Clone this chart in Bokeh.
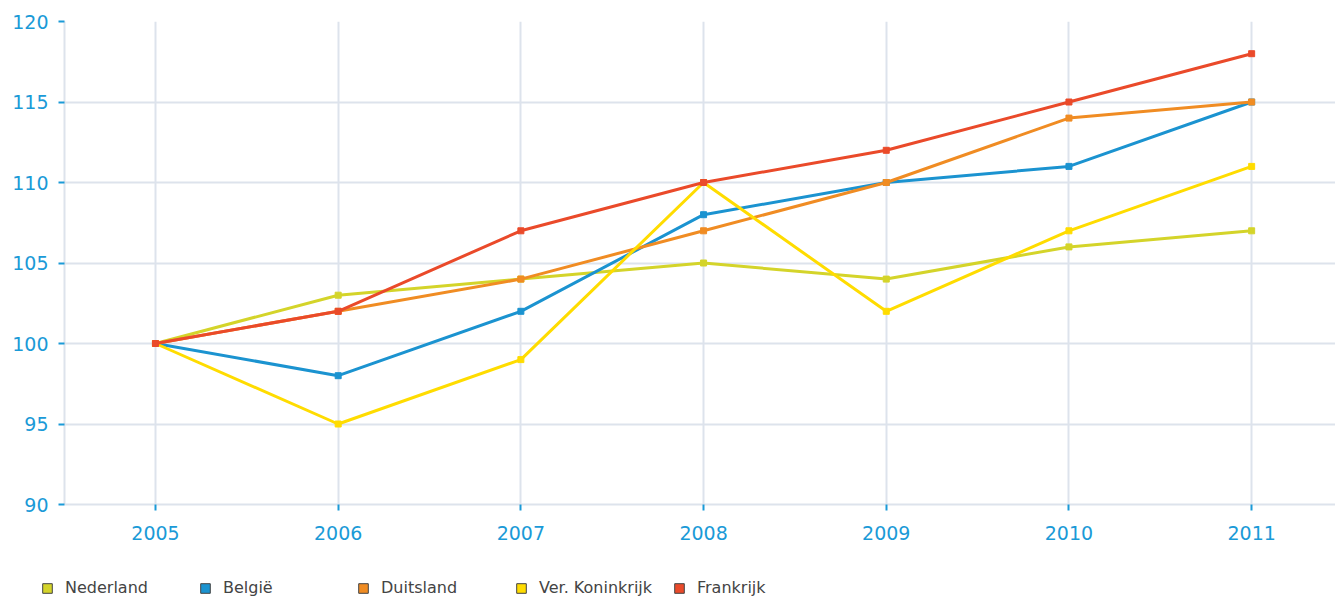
from bokeh.plotting import figure
from bokeh.layouts import column
from bokeh.models import Legend, LegendItem, ColumnDataSource, FixedTicker, Range1d
from bokeh.embed import file_html
from bokeh.resources import INLINE

years = [2005, 2006, 2007, 2008, 2009, 2010, 2011]
series_names = ["Nederland", "België", "Duitsland", "Ver. Koninkrijk", "Frankrijk"]
nederland = [100, 103, 104, 105, 104, 106, 107]
belgie = [100, 98, 102, 108, 110, 111, 115]
duitsland = [100, 102, 104, 107, 110, 114, 115]
ver_koninkrijk = [100, 95, 99, 110, 102, 107, 111]
frankrijk = [100, 102, 107, 110, 112, 115, 118]
y_ticks = [90, 95, 100, 105, 110, 115, 120]

colors = ["#d4d42a", "#1b93d0", "#f08c23", "#ffdc00", "#ea4a2a"]
values = [nederland, belgie, duitsland, ver_koninkrijk, frankrijk]

main = figure(width=1335, height=560, output_backend="svg", toolbar_location=None,
              x_range=Range1d(2004.502, 2011.459), y_range=Range1d(90, 120),
              min_border_left=64, min_border_right=0, min_border_top=21, min_border_bottom=56)
main.outline_line_color = None
main.background_fill_color = "white"
main.frame_align = False

tick_color = "#1a9ad7"
grid_color = "#dde3ec"

for ax in (main.xaxis[0], main.yaxis[0]):
    ax.axis_line_color = grid_color
    ax.axis_line_width = 2
    ax.major_tick_line_color = tick_color
    ax.major_tick_line_width = 2
    ax.major_tick_out = 6
    ax.major_tick_in = 0
    ax.minor_tick_line_color = None
    ax.major_label_text_color = tick_color
    ax.major_label_text_font = "DejaVu Sans"
    ax.major_label_text_font_size = "19px"

main.xaxis.ticker = FixedTicker(ticks=years)
main.yaxis.ticker = FixedTicker(ticks=y_ticks)
main.xaxis.major_label_standoff = 15
main.yaxis.major_label_standoff = 10
main.xaxis.major_label_overrides = {y: str(y) for y in years}

main.xgrid.ticker = FixedTicker(ticks=years)
main.ygrid.ticker = FixedTicker(ticks=y_ticks)
for g in (main.xgrid[0], main.ygrid[0]):
    g.grid_line_color = grid_color
    g.grid_line_width = 2

for name, vals, col in zip(series_names, values, colors):
    src = ColumnDataSource(dict(x=years, y=vals))
    main.line("x", "y", source=src, line_color=col, line_width=3)
    main.scatter("x", "y", source=src, marker="square", size=6, fill_color=col, line_color=col)

# legend strip
leg = figure(width=1335, height=40, output_backend="svg", toolbar_location=None,
             x_range=Range1d(0, 1), y_range=Range1d(0, 1),
             x_axis_location=None, y_axis_location=None,
             min_border_left=0, min_border_right=0, min_border_top=0, min_border_bottom=0)
leg.grid.visible = False
leg.outline_line_color = None
leg.frame_align = False

nan = float("nan")
items = []
for name, col in zip(series_names, colors):
    dummy = leg.quad(left=[nan], right=[nan], top=[nan], bottom=[nan],
                     fill_color=col, line_color="#444444", line_width=1)
    items.append(LegendItem(label=name, renderers=[dummy]))

legend = Legend(items=items, orientation="horizontal", location=(41, 3),
                glyph_width=12, glyph_height=12, label_standoff=12, label_width=134,
                spacing=0, padding=0, margin=0, border_line_color=None,
                background_fill_alpha=0,
                label_text_font="DejaVu Sans", label_text_font_size="16px",
                label_text_color="#444444")
leg.add_layout(legend)

p = column(main, leg, spacing=0)

open("out.html", "w").write(file_html(p, INLINE))
